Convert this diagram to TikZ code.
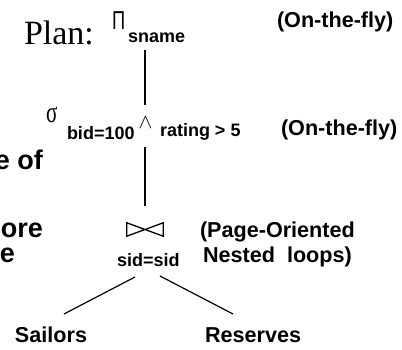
\documentclass[tikz,border=0pt]{standalone}
\usepackage{fontspec}
\setmainfont{Liberation Serif}
\setsansfont{Liberation Sans}
\begin{document}
\begin{tikzpicture}[x=1pt,y=-1pt,
  txt/.style={inner sep=0pt, outer sep=0pt, anchor=base west},
  lbl/.style={txt, font=\sffamily\bfseries\fontsize{21.6}{25}\selectfont},
  sub/.style={txt, font=\sffamily\bfseries\fontsize{18}{21}\selectfont},
  frag/.style={inner sep=0pt, outer sep=0pt, anchor=base east, font=\sffamily\bfseries\fontsize{27}{30}\selectfont},
  edge/.style={line width=1.2pt}]
\useasboundingbox (0,0) rectangle (402,350);
\clip (0,0) rectangle (402,350);
% projection
\node[txt, font=\fontsize{34}{40}\selectfont] (plan) at (24,45) {Plan:};
\node[txt, font=\sffamily\fontsize{26}{30}\selectfont] (pi) at (112,30) {\scalebox{0.7}[1]{Π}};
\node[sub] (sname) at (128,43) {sname};
\node[lbl] (fly1) at (277,28) {(On-the-fly)};
% selection
\node[txt, font=\fontsize{30}{34}\selectfont] (sigma) at (46,123) {\scalebox{0.7}[1]{σ}};
\node[sub] (bid) at (67,140) {bid=100};
\node[txt, font=\fontsize{21}{24}\selectfont] (and) at (138.5,129) {$\wedge$};
\node[sub] (rating) at (160,137) {rating > 5};
\node[lbl] (fly2) at (281,136) {(On-the-fly)};
% join
\node[minimum width=36pt, minimum height=13pt, inner sep=0pt] (join) at (145,229.5) {};
\draw[line width=1.3pt, line join=miter] (join.north west) -- (join.south east) -- (join.north east) -- (join.south west) -- cycle;
\node[sub] (sid) at (117,266) {sid=sid};
\node[lbl] (page1) at (200,237) {(Page-Oriented};
\node[lbl] (page2) at (203,262) {Nested\ \ loops)};
% leaves
\node[lbl] (sailors) at (15,342) {Sailors};
\node[lbl] (reserves) at (205,342) {Reserves};
% clipped fragments at the left
\node[frag] (frag1) at (43,170) {e of};
\node[frag] (frag2) at (43,237) {ore};
\node[frag] (frag3) at (15,262) {e};
% connectors
\coordinate (a1) at (145,50);
\coordinate (a2) at (145,105);
\coordinate (b1) at (145,147);
\coordinate (b2) at (145,206);
\coordinate (c1) at (135,277);
\coordinate (c2) at (64,314);
\coordinate (d1) at (160,276);
\coordinate (d2) at (233,314);
\draw[edge] (a1) -- (a2);
\draw[edge] (b1) -- (b2);
\draw[edge] (c1) -- (c2);
\draw[edge] (d1) -- (d2);
\end{tikzpicture}
\end{document}
